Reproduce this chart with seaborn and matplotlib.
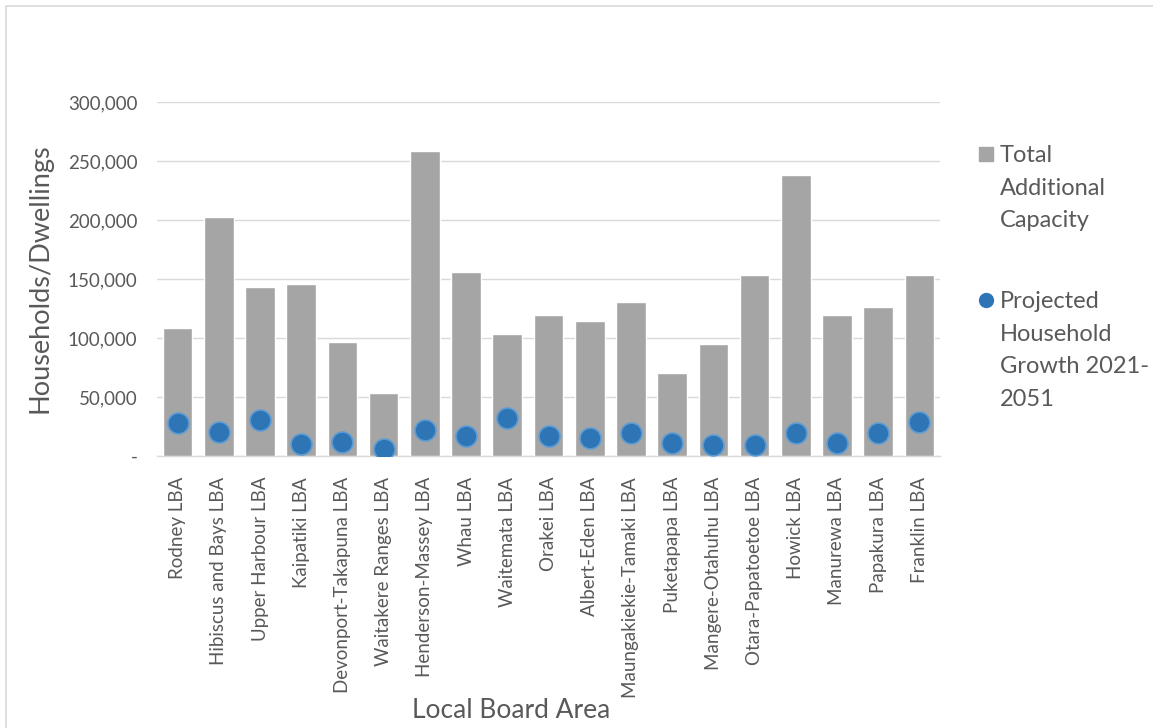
import matplotlib
matplotlib.use("Agg")
import matplotlib.pyplot as plt
from matplotlib.patches import Rectangle
from matplotlib.lines import Line2D
from matplotlib.ticker import FuncFormatter
import seaborn as sns
import pandas as pd

# Local board areas (Auckland)
areas = [
    "Rodney LBA", "Hibiscus and Bays LBA", "Upper Harbour LBA", "Kaipatiki LBA",
    "Devonport-Takapuna LBA", "Waitakere Ranges LBA", "Henderson-Massey LBA",
    "Whau LBA", "Waitemata LBA", "Orakei LBA", "Albert-Eden LBA",
    "Maungakiekie-Tamaki LBA", "Puketapapa LBA", "Mangere-Otahuhu LBA",
    "Otara-Papatoetoe LBA", "Howick LBA", "Manurewa LBA", "Papakura LBA",
    "Franklin LBA",
]

# Total additional capacity (households/dwellings)
capacity = [108500, 202800, 143500, 146000, 96300, 53700, 259000, 155700,
            103700, 119200, 114400, 130200, 70600, 94900, 153100, 238100,
            119200, 126500, 153100]

# Projected household growth 2021-2051
growth = [27700, 20300, 30200, 9900, 12100, 5900, 21800, 16700, 32500,
          17000, 15500, 19200, 10700, 9600, 9600, 19200, 10700, 19200, 28800]

y_ticks = [0, 50000, 100000, 150000, 200000, 250000, 300000]

df = pd.DataFrame({"area": areas, "capacity": capacity, "growth": growth})

sns.set_theme(style="white")
plt.rcParams["font.family"] = ["Lato", "DejaVu Sans"]

TEXT = "#595959"
BAR = "#A5A5A5"
DOT = "#2E75B6"
GRID = "#D9D9D9"

fig = plt.figure(figsize=(11.53, 7.28), dpi=100)
ax = fig.add_axes([157 / 1153, 1 - 456 / 728, (940 - 157) / 1153, (456 - 102.3) / 728])

# Light frame around the chart area
fig.patches.append(Rectangle((6 / 1153, -0.1), 1.2, 0.1 + 1 - 6 / 728,
                             transform=fig.transFigure, fill=False,
                             edgecolor=GRID, linewidth=1.2, zorder=0))

sns.barplot(data=df, x="area", y="capacity", color=BAR, width=0.72,
            saturation=1, ax=ax, zorder=2, order=areas)
sns.stripplot(data=df, x="area", y="growth", color=DOT, jitter=False,
              size=15, linewidth=1.2, edgecolor="#5B9BD5", ax=ax, zorder=3,
              order=areas)

ax.set_ylim(0, 300000)
ax.set_xlim(-0.5, len(areas) - 0.5)
ax.set_yticks(y_ticks)
ax.yaxis.set_major_formatter(FuncFormatter(lambda v, p: "-" if v == 0 else f"{int(v):,}"))
ax.grid(axis="y", color=GRID, linewidth=1, zorder=0)
ax.set_axisbelow(True)
for side in ["top", "right", "left"]:
    ax.spines[side].set_visible(False)
ax.spines["bottom"].set_color(GRID)
ax.spines["bottom"].set_linewidth(1)
ax.spines["bottom"].set_zorder(1)

ax.tick_params(axis="y", length=0, pad=14, labelsize=13.5, labelcolor=TEXT)
ax.tick_params(axis="x", length=0, pad=15, labelsize=13.5, labelcolor=TEXT)
plt.setp(ax.get_xticklabels(), rotation=90, ha="center", va="top")

ax.set_ylabel("Households/Dwellings", fontsize=19.5, color=TEXT)
ax.yaxis.set_label_coords(-0.149, 0.503)
ax.yaxis.label.set_va("center")
ax.set_xlabel("Local Board Area", fontsize=19, color=TEXT)
ax.xaxis.set_label_coords(0.452, -0.72)
ax.xaxis.label.set_va("center")

# Legend: one block per series, marker beside the first line of text
blank = Line2D([], [], linestyle="none", marker=None)
sq = Line2D([], [], linestyle="none", marker="s", markersize=10,
            markerfacecolor=BAR, markeredgecolor=BAR)
dot = Line2D([], [], linestyle="none", marker="o", markersize=10,
             markerfacecolor=DOT, markeredgecolor=DOT)

leg_kw = dict(frameon=False, fontsize=17, labelcolor=TEXT, handlelength=0.55,
              handletextpad=0.3, labelspacing=0.5, borderpad=0,
              loc="upper left", bbox_transform=fig.transFigure)
leg1 = ax.legend([sq, blank, blank], ["Total", "Additional", "Capacity"],
                 bbox_to_anchor=(968 / 1153, 1 - 133 / 728), **leg_kw)
ax.add_artist(leg1)
ax.legend([dot, blank, blank, blank],
          ["Projected", "Household", "Growth 2021-", "2051"],
          bbox_to_anchor=(968 / 1153, 1 - 279 / 728), **leg_kw)

fig.savefig("out.png", dpi=100, facecolor="white")
